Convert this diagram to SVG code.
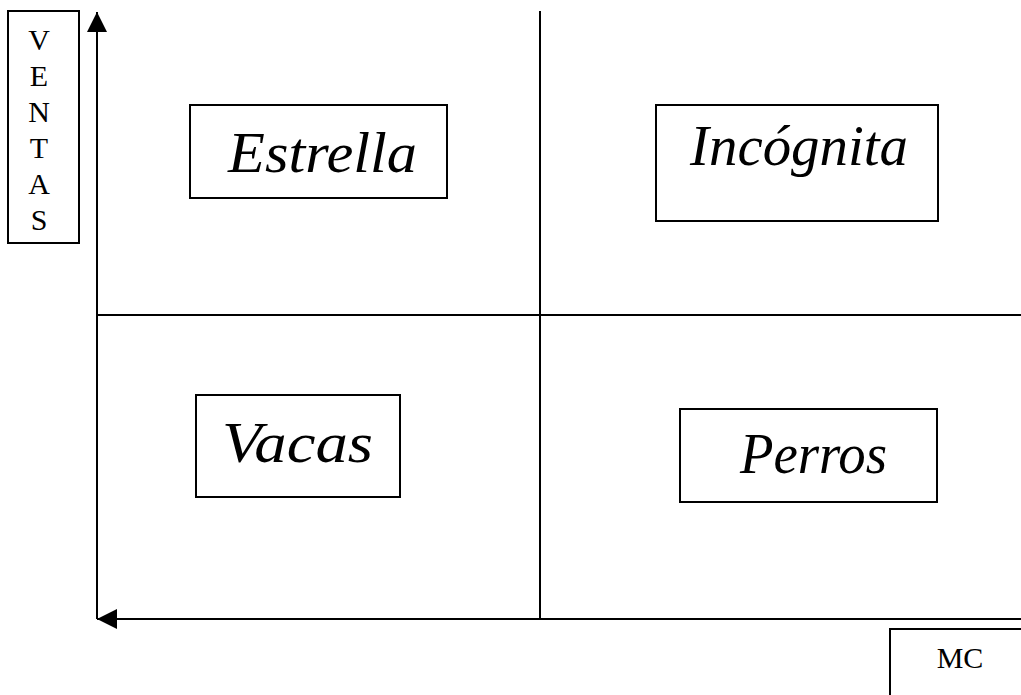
<svg xmlns="http://www.w3.org/2000/svg" width="1021" height="695" viewBox="0 0 1021 695">
<style>
.box{fill:#fff;stroke:#000;stroke-width:2}
.ln{fill:none;stroke:#000;stroke-width:2}
.lab{font-family:"Liberation Serif","Times New Roman",serif;font-style:italic;font-size:58px;fill:#000}
.ax{font-family:"Liberation Serif","Times New Roman",serif;font-size:30px;fill:#000;text-anchor:middle}
</style>
<defs>
<marker id="ah" markerWidth="20" markerHeight="20" refX="20" refY="10" orient="auto" markerUnits="userSpaceOnUse">
<path d="M0,0 L20,10 L0,20 Z" fill="#000"/>
</marker>
</defs>
<rect width="1021" height="695" fill="#fff"/>
<g id="connectors">
<line class="ln" x1="540" y1="11" x2="540" y2="619"/>
<line class="ln" x1="97" y1="315" x2="1021" y2="315"/>
<line class="ln" x1="97" y1="619" x2="97" y2="12" marker-end="url(#ah)"/>
<line class="ln" x1="1021" y1="619" x2="97" y2="619" marker-end="url(#ah)"/>
</g>
<g id="ventas">
<rect class="box" x="8" y="11" width="71" height="232"/>
<text class="ax" x="39" y="50">V</text>
<text class="ax" x="39" y="86">E</text>
<text class="ax" x="39" y="122">N</text>
<text class="ax" x="39" y="158">T</text>
<text class="ax" x="39" y="194">A</text>
<text class="ax" x="39" y="230">S</text>
</g>
<g id="mc">
<rect class="box" x="890" y="629" width="140" height="80"/>
<text class="ax" x="960" y="668">MC</text>
</g>
<g id="estrella">
<rect class="box" x="190" y="105" width="257" height="93"/>
<text class="lab" x="228" y="172" textLength="189" lengthAdjust="spacingAndGlyphs">Estrella</text>
</g>
<g id="incognita">
<rect class="box" x="656" y="105" width="282" height="116"/>
<text class="lab" x="690" y="165" textLength="218" lengthAdjust="spacingAndGlyphs">Incógnita</text>
</g>
<g id="vacas">
<rect class="box" x="196" y="395" width="204" height="102"/>
<text class="lab" x="222" y="462" textLength="151" lengthAdjust="spacingAndGlyphs">Vacas</text>
</g>
<g id="perros">
<rect class="box" x="680" y="409" width="257" height="93"/>
<text class="lab" x="740" y="473" textLength="147" lengthAdjust="spacingAndGlyphs">Perros</text>
</g>
</svg>
